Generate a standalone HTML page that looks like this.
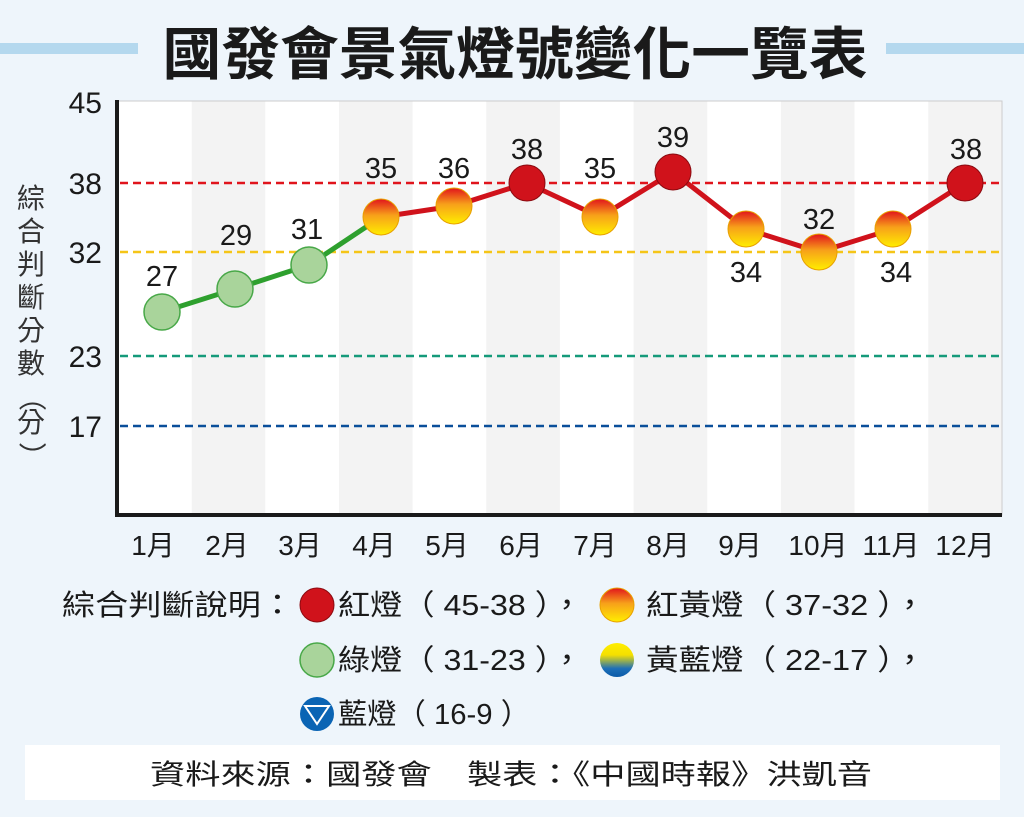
<!DOCTYPE html>
<html><head><meta charset="utf-8"><style>
body{margin:0;background:#eef5fb;}
svg{display:block;font-family:"Liberation Sans","Noto Sans CJK TC",sans-serif;}
</style></head><body>
<svg width="1024" height="817" viewBox="0 0 1024 817">
<defs>
<linearGradient id="ry" x1="0" y1="0" x2="0" y2="1"><stop offset="0" stop-color="#e1141c"/><stop offset="0.45" stop-color="#f7a01a"/><stop offset="1" stop-color="#ffee00"/></linearGradient>
<linearGradient id="yb" x1="0" y1="0" x2="0" y2="1"><stop offset="0" stop-color="#ffee00"/><stop offset="0.35" stop-color="#f5e000"/><stop offset="0.75" stop-color="#1d6fb8"/><stop offset="1" stop-color="#0a5aa8"/></linearGradient>
</defs>
<rect width="1024" height="817" fill="#eef5fb"/>
<rect x="0" y="43" width="138" height="11" fill="#b4d8ee"/>
<rect x="886" y="43" width="138" height="11" fill="#b4d8ee"/>
<text x="515" y="74" text-anchor="middle" font-size="57" font-weight="bold" fill="#1a1a1a" textLength="705" lengthAdjust="spacingAndGlyphs">國發會景氣燈號變化一覽表</text>
<rect x="118" y="101" width="884" height="414" fill="#fff" stroke="#ccc" stroke-width="1"/>
<g fill="#f3f3f3">
<rect x="191.7" y="101.5" width="73.6" height="413"/><rect x="339" y="101.5" width="73.6" height="413"/><rect x="486.3" y="101.5" width="73.6" height="413"/><rect x="633.6" y="101.5" width="73.6" height="413"/><rect x="780.9" y="101.5" width="73.6" height="413"/><rect x="928.2" y="101.5" width="73.3" height="413"/>
</g>
<g stroke-width="2.5" stroke-dasharray="8,5">
<line x1="120" x2="1002" y1="183" y2="183" stroke="#e0141c"/>
<line x1="120" x2="1002" y1="252" y2="252" stroke="#f5c518"/>
<line x1="120" x2="1002" y1="356" y2="356" stroke="#159a7a"/>
<line x1="120" x2="1002" y1="426" y2="426" stroke="#0a4f9a"/>
</g>
<line x1="117" y1="100" x2="117" y2="517" stroke="#1a1a1a" stroke-width="4"/>
<line x1="115" y1="515" x2="1002" y2="515" stroke="#1a1a1a" stroke-width="4"/>
<g font-size="30" fill="#1a1a1a" text-anchor="end">
<text x="102" y="113">45</text><text x="102" y="194">38</text><text x="102" y="263">32</text><text x="102" y="367">23</text><text x="102" y="437">17</text>
</g>
<g font-size="28" fill="#333" text-anchor="middle">
<text x="31" y="208">綜</text><text x="31" y="241">合</text><text x="31" y="274">判</text><text x="31" y="307">斷</text><text x="31" y="340">分</text><text x="31" y="373">數</text>
<text x="31" y="406" transform="rotate(90 31 397)">（</text><text x="31" y="432">分</text><text x="31" y="465" transform="rotate(90 31 456)">）</text>
</g>
<polyline points="162,312 235,289 309,265 381,217" fill="none" stroke="#2ea02e" stroke-width="5"/>
<polyline points="381,217 454,206 527,183 600,217 673,172 746,229 819,252 893,229 965,183" fill="none" stroke="#d0121b" stroke-width="5"/>
<g stroke="#48a848" stroke-width="1.5" fill="#a9d49b">
<circle cx="162" cy="312" r="18"/><circle cx="235" cy="289" r="18"/><circle cx="309" cy="265" r="18"/>
</g>
<g stroke="#e8a000" stroke-width="1" fill="url(#ry)">
<circle cx="381" cy="217" r="18"/><circle cx="454" cy="206" r="18"/><circle cx="600" cy="217" r="18"/><circle cx="746" cy="229" r="18"/><circle cx="819" cy="252" r="18"/><circle cx="893" cy="229" r="18"/>
</g>
<g stroke="#8a0a10" stroke-width="1" fill="#d0121b">
<circle cx="527" cy="183" r="18"/><circle cx="673" cy="172" r="18"/><circle cx="965" cy="183" r="18"/>
</g>
<g font-size="29" fill="#1a1a1a" text-anchor="middle">
<text x="162" y="286">27</text><text x="236" y="245">29</text><text x="307" y="239">31</text><text x="381" y="178">35</text><text x="454" y="178">36</text><text x="527" y="159">38</text><text x="600" y="178">35</text><text x="673" y="147">39</text><text x="746" y="282">34</text><text x="819" y="229">32</text><text x="896" y="282">34</text><text x="966" y="159">38</text>
</g>
<g font-size="28" fill="#1a1a1a" text-anchor="middle">
<text x="153" y="555">1月</text><text x="227" y="555">2月</text><text x="300" y="555">3月</text><text x="374" y="555">4月</text><text x="447" y="555">5月</text><text x="521" y="555">6月</text><text x="595" y="555">7月</text><text x="668" y="555">8月</text><text x="740" y="555">9月</text><text x="818" y="555">10月</text><text x="891" y="555">11月</text><text x="965" y="555">12月</text>
</g>
<g font-size="29" fill="#1a1a1a">
<text x="62" y="615" textLength="232" lengthAdjust="spacingAndGlyphs">綜合判斷說明：</text>
<circle cx="317" cy="605" r="17" fill="#d0121b" stroke="#8a0a10"/>
<text x="338" y="615" textLength="245" lengthAdjust="spacingAndGlyphs">紅燈（ 45-38 ），</text>
<circle cx="617" cy="605" r="17" fill="url(#ry)" stroke="#e8a000"/>
<text x="646" y="615" textLength="280" lengthAdjust="spacingAndGlyphs">紅黃燈（ 37-32 ），</text>
<circle cx="317" cy="660" r="17" fill="#a9d49b" stroke="#48a848" stroke-width="1.5"/>
<text x="338" y="670" textLength="245" lengthAdjust="spacingAndGlyphs">綠燈（ 31-23 ），</text>
<circle cx="617" cy="660" r="17" fill="url(#yb)"/>
<text x="646" y="670" textLength="280" lengthAdjust="spacingAndGlyphs">黃藍燈（ 22-17 ），</text>
<circle cx="317" cy="714" r="17" fill="#0a64b4"/>
<polygon points="305,706 329,706 317,724" fill="none" stroke="#fff" stroke-width="2"/>
<text x="338" y="724" textLength="192" lengthAdjust="spacingAndGlyphs">藍燈（ 16-9 ）</text>
</g>
<rect x="25" y="745" width="975" height="55" fill="#fff"/>
<text x="150" y="784" font-size="28" fill="#1a1a1a" textLength="722" lengthAdjust="spacingAndGlyphs">資料來源：國發會　製表：《中國時報》洪凱音</text>
</svg>
</body></html>
